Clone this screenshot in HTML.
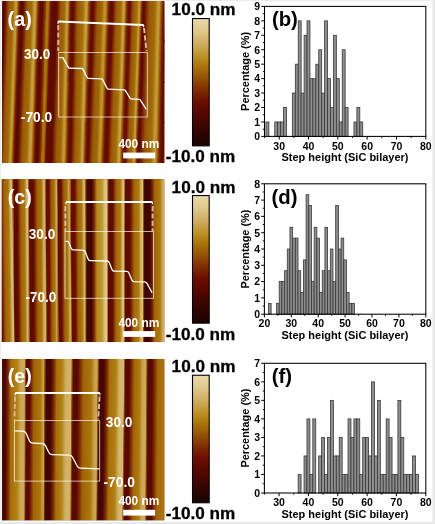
<!DOCTYPE html>
<html><head><meta charset="utf-8"><title>Figure</title>
<style>html,body{margin:0;padding:0;background:#fff;}svg{display:block;}</style></head>
<body>
<svg width="435" height="524" viewBox="0 0 435 524" font-family="Liberation Sans, Arial, sans-serif" font-weight="bold">
<defs>
<clipPath id="clipa"><rect x="2.1" y="1.0" width="162.20000000000002" height="162.0"/></clipPath>
<linearGradient id="ga_0_0" gradientUnits="userSpaceOnUse" x1="-14.69" y1="21.25" x2="3.29" y2="21.86"><stop offset="0.000" stop-color="#5b0a00"/><stop offset="0.065" stop-color="#5e0a00"/><stop offset="0.170" stop-color="#802d00"/><stop offset="0.280" stop-color="#985806"/><stop offset="0.500" stop-color="#a26709"/><stop offset="0.550" stop-color="#ab760c"/><stop offset="0.640" stop-color="#c29938"/><stop offset="0.705" stop-color="#c29938"/><stop offset="0.780" stop-color="#9d6008"/><stop offset="0.870" stop-color="#721700"/><stop offset="0.945" stop-color="#600b00"/><stop offset="1.000" stop-color="#5b0a00"/></linearGradient>
<linearGradient id="ga_0_1" gradientUnits="userSpaceOnUse" x1="3.31" y1="21.25" x2="21.23" y2="21.89"><stop offset="0.000" stop-color="#5b0a00"/><stop offset="0.065" stop-color="#5e0a00"/><stop offset="0.170" stop-color="#802d00"/><stop offset="0.280" stop-color="#985806"/><stop offset="0.500" stop-color="#a26709"/><stop offset="0.550" stop-color="#ab760c"/><stop offset="0.640" stop-color="#c29938"/><stop offset="0.705" stop-color="#c29938"/><stop offset="0.780" stop-color="#9d6008"/><stop offset="0.870" stop-color="#721700"/><stop offset="0.945" stop-color="#600b00"/><stop offset="1.000" stop-color="#5b0a00"/></linearGradient>
<linearGradient id="ga_0_2" gradientUnits="userSpaceOnUse" x1="21.25" y1="21.25" x2="41.42" y2="21.90"><stop offset="0.000" stop-color="#590900"/><stop offset="0.065" stop-color="#5b0a00"/><stop offset="0.170" stop-color="#802d00"/><stop offset="0.280" stop-color="#9a5c07"/><stop offset="0.500" stop-color="#a46b0a"/><stop offset="0.530" stop-color="#ae7a0d"/><stop offset="0.620" stop-color="#c59e43"/><stop offset="0.685" stop-color="#c59e43"/><stop offset="0.760" stop-color="#9f6308"/><stop offset="0.850" stop-color="#711500"/><stop offset="0.925" stop-color="#5e0a00"/><stop offset="1.000" stop-color="#590900"/></linearGradient>
<linearGradient id="ga_0_3" gradientUnits="userSpaceOnUse" x1="41.44" y1="21.25" x2="55.73" y2="21.71"><stop offset="0.000" stop-color="#5e0a00"/><stop offset="0.065" stop-color="#600b00"/><stop offset="0.170" stop-color="#7d2800"/><stop offset="0.280" stop-color="#8f4804"/><stop offset="0.290" stop-color="#a26709"/><stop offset="0.380" stop-color="#ab760c"/><stop offset="0.445" stop-color="#ab760c"/><stop offset="0.500" stop-color="#985806"/><stop offset="0.520" stop-color="#945005"/><stop offset="0.610" stop-color="#711500"/><stop offset="0.685" stop-color="#620c00"/><stop offset="1.000" stop-color="#5e0a00"/></linearGradient>
<linearGradient id="ga_0_4" gradientUnits="userSpaceOnUse" x1="55.75" y1="21.25" x2="72.18" y2="21.68"><stop offset="0.000" stop-color="#600b00"/><stop offset="0.065" stop-color="#620c00"/><stop offset="0.170" stop-color="#823000"/><stop offset="0.280" stop-color="#985806"/><stop offset="0.500" stop-color="#a26709"/><stop offset="0.550" stop-color="#ab760c"/><stop offset="0.640" stop-color="#c29938"/><stop offset="0.705" stop-color="#c29938"/><stop offset="0.780" stop-color="#9d6008"/><stop offset="0.870" stop-color="#751c00"/><stop offset="0.945" stop-color="#650c00"/><stop offset="1.000" stop-color="#600b00"/></linearGradient>
<linearGradient id="ga_0_5" gradientUnits="userSpaceOnUse" x1="72.19" y1="21.25" x2="91.80" y2="21.73"><stop offset="0.000" stop-color="#620c00"/><stop offset="0.065" stop-color="#650c00"/><stop offset="0.170" stop-color="#843401"/><stop offset="0.280" stop-color="#9a5c07"/><stop offset="0.500" stop-color="#a46b0a"/><stop offset="0.580" stop-color="#ae7a0d"/><stop offset="0.670" stop-color="#c59e43"/><stop offset="0.735" stop-color="#c59e43"/><stop offset="0.810" stop-color="#9f6308"/><stop offset="0.900" stop-color="#771f00"/><stop offset="0.975" stop-color="#670d00"/><stop offset="1.000" stop-color="#620c00"/></linearGradient>
<linearGradient id="ga_0_6" gradientUnits="userSpaceOnUse" x1="91.81" y1="21.25" x2="111.26" y2="21.92"><stop offset="0.000" stop-color="#600b00"/><stop offset="0.065" stop-color="#620c00"/><stop offset="0.170" stop-color="#823000"/><stop offset="0.280" stop-color="#985806"/><stop offset="0.500" stop-color="#a26709"/><stop offset="0.530" stop-color="#ab760c"/><stop offset="0.620" stop-color="#be932d"/><stop offset="0.685" stop-color="#be932d"/><stop offset="0.760" stop-color="#9d6008"/><stop offset="0.850" stop-color="#751c00"/><stop offset="0.925" stop-color="#650c00"/><stop offset="1.000" stop-color="#600b00"/></linearGradient>
<linearGradient id="ga_0_7" gradientUnits="userSpaceOnUse" x1="111.29" y1="21.25" x2="128.94" y2="21.84"><stop offset="0.000" stop-color="#650c00"/><stop offset="0.065" stop-color="#670d00"/><stop offset="0.170" stop-color="#853601"/><stop offset="0.280" stop-color="#9a5c07"/><stop offset="0.500" stop-color="#a46b0a"/><stop offset="0.560" stop-color="#ae7a0d"/><stop offset="0.650" stop-color="#c59e43"/><stop offset="0.715" stop-color="#c59e43"/><stop offset="0.790" stop-color="#9f6308"/><stop offset="0.880" stop-color="#792100"/><stop offset="0.955" stop-color="#6a0d00"/><stop offset="1.000" stop-color="#650c00"/></linearGradient>
<linearGradient id="ga_0_8" gradientUnits="userSpaceOnUse" x1="128.96" y1="21.25" x2="142.77" y2="21.71"><stop offset="0.000" stop-color="#670d00"/><stop offset="0.065" stop-color="#6a0d00"/><stop offset="0.170" stop-color="#853601"/><stop offset="0.280" stop-color="#985806"/><stop offset="0.500" stop-color="#a26709"/><stop offset="0.590" stop-color="#ab760c"/><stop offset="0.680" stop-color="#c29938"/><stop offset="0.745" stop-color="#c29938"/><stop offset="0.820" stop-color="#9d6008"/><stop offset="0.910" stop-color="#792300"/><stop offset="0.975" stop-color="#6c0e00"/><stop offset="1.000" stop-color="#670d00"/></linearGradient>
<linearGradient id="ga_0_9" gradientUnits="userSpaceOnUse" x1="142.79" y1="21.25" x2="165.04" y2="21.88"><stop offset="0.000" stop-color="#600b00"/><stop offset="0.065" stop-color="#620c00"/><stop offset="0.170" stop-color="#823000"/><stop offset="0.280" stop-color="#985806"/><stop offset="0.500" stop-color="#a26709"/><stop offset="0.570" stop-color="#ab760c"/><stop offset="0.660" stop-color="#c29938"/><stop offset="0.725" stop-color="#c29938"/><stop offset="0.800" stop-color="#9d6008"/><stop offset="0.890" stop-color="#751c00"/><stop offset="0.965" stop-color="#650c00"/><stop offset="1.000" stop-color="#600b00"/></linearGradient>
<linearGradient id="ga_0_10" gradientUnits="userSpaceOnUse" x1="165.06" y1="21.25" x2="183.49" y2="21.68"><stop offset="0.000" stop-color="#600b00"/><stop offset="0.065" stop-color="#620c00"/><stop offset="0.170" stop-color="#823000"/><stop offset="0.280" stop-color="#985806"/><stop offset="0.500" stop-color="#a26709"/><stop offset="0.550" stop-color="#ab760c"/><stop offset="0.640" stop-color="#c29938"/><stop offset="0.705" stop-color="#c29938"/><stop offset="0.780" stop-color="#9d6008"/><stop offset="0.870" stop-color="#751c00"/><stop offset="0.945" stop-color="#650c00"/><stop offset="1.000" stop-color="#600b00"/></linearGradient>
<linearGradient id="ga_1_0" gradientUnits="userSpaceOnUse" x1="-16.06" y1="61.75" x2="1.92" y2="62.36"><stop offset="0.000" stop-color="#5b0a00"/><stop offset="0.065" stop-color="#5e0a00"/><stop offset="0.170" stop-color="#802d00"/><stop offset="0.280" stop-color="#985806"/><stop offset="0.500" stop-color="#a26709"/><stop offset="0.550" stop-color="#ab760c"/><stop offset="0.640" stop-color="#c29938"/><stop offset="0.705" stop-color="#c29938"/><stop offset="0.780" stop-color="#9d6008"/><stop offset="0.870" stop-color="#721700"/><stop offset="0.945" stop-color="#600b00"/><stop offset="1.000" stop-color="#5b0a00"/></linearGradient>
<linearGradient id="ga_1_1" gradientUnits="userSpaceOnUse" x1="1.94" y1="61.75" x2="19.73" y2="62.38"><stop offset="0.000" stop-color="#5b0a00"/><stop offset="0.065" stop-color="#5e0a00"/><stop offset="0.170" stop-color="#802d00"/><stop offset="0.280" stop-color="#985806"/><stop offset="0.500" stop-color="#a26709"/><stop offset="0.550" stop-color="#ab760c"/><stop offset="0.640" stop-color="#c29938"/><stop offset="0.705" stop-color="#c29938"/><stop offset="0.780" stop-color="#9d6008"/><stop offset="0.870" stop-color="#721700"/><stop offset="0.945" stop-color="#600b00"/><stop offset="1.000" stop-color="#5b0a00"/></linearGradient>
<linearGradient id="ga_1_2" gradientUnits="userSpaceOnUse" x1="19.75" y1="61.75" x2="40.29" y2="62.42"><stop offset="0.000" stop-color="#590900"/><stop offset="0.065" stop-color="#5b0a00"/><stop offset="0.170" stop-color="#802d00"/><stop offset="0.280" stop-color="#9a5c07"/><stop offset="0.500" stop-color="#a46b0a"/><stop offset="0.530" stop-color="#ae7a0d"/><stop offset="0.620" stop-color="#c59e43"/><stop offset="0.685" stop-color="#c59e43"/><stop offset="0.760" stop-color="#9f6308"/><stop offset="0.850" stop-color="#711500"/><stop offset="0.925" stop-color="#5e0a00"/><stop offset="1.000" stop-color="#590900"/></linearGradient>
<linearGradient id="ga_1_3" gradientUnits="userSpaceOnUse" x1="40.31" y1="61.75" x2="54.24" y2="62.20"><stop offset="0.000" stop-color="#5e0a00"/><stop offset="0.065" stop-color="#600b00"/><stop offset="0.170" stop-color="#7d2800"/><stop offset="0.280" stop-color="#8f4804"/><stop offset="0.290" stop-color="#a26709"/><stop offset="0.380" stop-color="#ab760c"/><stop offset="0.445" stop-color="#ab760c"/><stop offset="0.500" stop-color="#985806"/><stop offset="0.520" stop-color="#945005"/><stop offset="0.610" stop-color="#711500"/><stop offset="0.685" stop-color="#620c00"/><stop offset="1.000" stop-color="#5e0a00"/></linearGradient>
<linearGradient id="ga_1_4" gradientUnits="userSpaceOnUse" x1="54.25" y1="61.75" x2="71.55" y2="62.20"><stop offset="0.000" stop-color="#600b00"/><stop offset="0.065" stop-color="#620c00"/><stop offset="0.170" stop-color="#823000"/><stop offset="0.280" stop-color="#985806"/><stop offset="0.500" stop-color="#a26709"/><stop offset="0.550" stop-color="#ab760c"/><stop offset="0.640" stop-color="#c29938"/><stop offset="0.705" stop-color="#c29938"/><stop offset="0.780" stop-color="#9d6008"/><stop offset="0.870" stop-color="#751c00"/><stop offset="0.945" stop-color="#650c00"/><stop offset="1.000" stop-color="#600b00"/></linearGradient>
<linearGradient id="ga_1_5" gradientUnits="userSpaceOnUse" x1="71.56" y1="61.75" x2="90.43" y2="62.22"><stop offset="0.000" stop-color="#620c00"/><stop offset="0.065" stop-color="#650c00"/><stop offset="0.170" stop-color="#843401"/><stop offset="0.280" stop-color="#9a5c07"/><stop offset="0.500" stop-color="#a46b0a"/><stop offset="0.580" stop-color="#ae7a0d"/><stop offset="0.670" stop-color="#c59e43"/><stop offset="0.735" stop-color="#c59e43"/><stop offset="0.810" stop-color="#9f6308"/><stop offset="0.900" stop-color="#771f00"/><stop offset="0.975" stop-color="#670d00"/><stop offset="1.000" stop-color="#620c00"/></linearGradient>
<linearGradient id="ga_1_6" gradientUnits="userSpaceOnUse" x1="90.44" y1="61.75" x2="109.84" y2="62.42"><stop offset="0.000" stop-color="#600b00"/><stop offset="0.065" stop-color="#620c00"/><stop offset="0.170" stop-color="#823000"/><stop offset="0.280" stop-color="#985806"/><stop offset="0.500" stop-color="#a26709"/><stop offset="0.530" stop-color="#ab760c"/><stop offset="0.620" stop-color="#be932d"/><stop offset="0.685" stop-color="#be932d"/><stop offset="0.760" stop-color="#9d6008"/><stop offset="0.850" stop-color="#751c00"/><stop offset="0.925" stop-color="#650c00"/><stop offset="1.000" stop-color="#600b00"/></linearGradient>
<linearGradient id="ga_1_7" gradientUnits="userSpaceOnUse" x1="109.86" y1="61.75" x2="127.67" y2="62.34"><stop offset="0.000" stop-color="#650c00"/><stop offset="0.065" stop-color="#670d00"/><stop offset="0.170" stop-color="#853601"/><stop offset="0.280" stop-color="#9a5c07"/><stop offset="0.500" stop-color="#a46b0a"/><stop offset="0.560" stop-color="#ae7a0d"/><stop offset="0.650" stop-color="#c59e43"/><stop offset="0.715" stop-color="#c59e43"/><stop offset="0.790" stop-color="#9f6308"/><stop offset="0.880" stop-color="#792100"/><stop offset="0.955" stop-color="#6a0d00"/><stop offset="1.000" stop-color="#650c00"/></linearGradient>
<linearGradient id="ga_1_8" gradientUnits="userSpaceOnUse" x1="127.69" y1="61.75" x2="141.35" y2="62.21"><stop offset="0.000" stop-color="#670d00"/><stop offset="0.065" stop-color="#6a0d00"/><stop offset="0.170" stop-color="#853601"/><stop offset="0.280" stop-color="#985806"/><stop offset="0.500" stop-color="#a26709"/><stop offset="0.590" stop-color="#ab760c"/><stop offset="0.680" stop-color="#c29938"/><stop offset="0.745" stop-color="#c29938"/><stop offset="0.820" stop-color="#9d6008"/><stop offset="0.910" stop-color="#792300"/><stop offset="0.975" stop-color="#6c0e00"/><stop offset="1.000" stop-color="#670d00"/></linearGradient>
<linearGradient id="ga_1_9" gradientUnits="userSpaceOnUse" x1="141.36" y1="61.75" x2="164.17" y2="62.40"><stop offset="0.000" stop-color="#600b00"/><stop offset="0.065" stop-color="#620c00"/><stop offset="0.170" stop-color="#823000"/><stop offset="0.280" stop-color="#985806"/><stop offset="0.500" stop-color="#a26709"/><stop offset="0.570" stop-color="#ab760c"/><stop offset="0.660" stop-color="#c29938"/><stop offset="0.725" stop-color="#c29938"/><stop offset="0.800" stop-color="#9d6008"/><stop offset="0.890" stop-color="#751c00"/><stop offset="0.965" stop-color="#650c00"/><stop offset="1.000" stop-color="#600b00"/></linearGradient>
<linearGradient id="ga_1_10" gradientUnits="userSpaceOnUse" x1="164.19" y1="61.75" x2="182.49" y2="62.17"><stop offset="0.000" stop-color="#600b00"/><stop offset="0.065" stop-color="#620c00"/><stop offset="0.170" stop-color="#823000"/><stop offset="0.280" stop-color="#985806"/><stop offset="0.500" stop-color="#a26709"/><stop offset="0.550" stop-color="#ab760c"/><stop offset="0.640" stop-color="#c29938"/><stop offset="0.705" stop-color="#c29938"/><stop offset="0.780" stop-color="#9d6008"/><stop offset="0.870" stop-color="#751c00"/><stop offset="0.945" stop-color="#650c00"/><stop offset="1.000" stop-color="#600b00"/></linearGradient>
<linearGradient id="ga_2_0" gradientUnits="userSpaceOnUse" x1="-17.44" y1="102.25" x2="0.54" y2="102.86"><stop offset="0.000" stop-color="#5b0a00"/><stop offset="0.065" stop-color="#5e0a00"/><stop offset="0.170" stop-color="#802d00"/><stop offset="0.280" stop-color="#985806"/><stop offset="0.500" stop-color="#a26709"/><stop offset="0.550" stop-color="#ab760c"/><stop offset="0.640" stop-color="#c29938"/><stop offset="0.705" stop-color="#c29938"/><stop offset="0.780" stop-color="#9d6008"/><stop offset="0.870" stop-color="#721700"/><stop offset="0.945" stop-color="#600b00"/><stop offset="1.000" stop-color="#5b0a00"/></linearGradient>
<linearGradient id="ga_2_1" gradientUnits="userSpaceOnUse" x1="0.56" y1="102.25" x2="18.23" y2="102.88"><stop offset="0.000" stop-color="#5b0a00"/><stop offset="0.065" stop-color="#5e0a00"/><stop offset="0.170" stop-color="#802d00"/><stop offset="0.280" stop-color="#985806"/><stop offset="0.500" stop-color="#a26709"/><stop offset="0.550" stop-color="#ab760c"/><stop offset="0.640" stop-color="#c29938"/><stop offset="0.705" stop-color="#c29938"/><stop offset="0.780" stop-color="#9d6008"/><stop offset="0.870" stop-color="#721700"/><stop offset="0.945" stop-color="#600b00"/><stop offset="1.000" stop-color="#5b0a00"/></linearGradient>
<linearGradient id="ga_2_2" gradientUnits="userSpaceOnUse" x1="18.25" y1="102.25" x2="39.17" y2="102.93"><stop offset="0.000" stop-color="#590900"/><stop offset="0.065" stop-color="#5b0a00"/><stop offset="0.170" stop-color="#802d00"/><stop offset="0.280" stop-color="#9a5c07"/><stop offset="0.500" stop-color="#a46b0a"/><stop offset="0.530" stop-color="#ae7a0d"/><stop offset="0.620" stop-color="#c59e43"/><stop offset="0.685" stop-color="#c59e43"/><stop offset="0.760" stop-color="#9f6308"/><stop offset="0.850" stop-color="#711500"/><stop offset="0.925" stop-color="#5e0a00"/><stop offset="1.000" stop-color="#590900"/></linearGradient>
<linearGradient id="ga_2_3" gradientUnits="userSpaceOnUse" x1="39.19" y1="102.25" x2="52.74" y2="102.69"><stop offset="0.000" stop-color="#5e0a00"/><stop offset="0.065" stop-color="#600b00"/><stop offset="0.170" stop-color="#7d2800"/><stop offset="0.280" stop-color="#8f4804"/><stop offset="0.290" stop-color="#a26709"/><stop offset="0.380" stop-color="#ab760c"/><stop offset="0.445" stop-color="#ab760c"/><stop offset="0.500" stop-color="#985806"/><stop offset="0.520" stop-color="#945005"/><stop offset="0.610" stop-color="#711500"/><stop offset="0.685" stop-color="#620c00"/><stop offset="1.000" stop-color="#5e0a00"/></linearGradient>
<linearGradient id="ga_2_4" gradientUnits="userSpaceOnUse" x1="52.75" y1="102.25" x2="70.92" y2="102.73"><stop offset="0.000" stop-color="#600b00"/><stop offset="0.065" stop-color="#620c00"/><stop offset="0.170" stop-color="#823000"/><stop offset="0.280" stop-color="#985806"/><stop offset="0.500" stop-color="#a26709"/><stop offset="0.550" stop-color="#ab760c"/><stop offset="0.640" stop-color="#c29938"/><stop offset="0.705" stop-color="#c29938"/><stop offset="0.780" stop-color="#9d6008"/><stop offset="0.870" stop-color="#751c00"/><stop offset="0.945" stop-color="#650c00"/><stop offset="1.000" stop-color="#600b00"/></linearGradient>
<linearGradient id="ga_2_5" gradientUnits="userSpaceOnUse" x1="70.94" y1="102.25" x2="89.05" y2="102.70"><stop offset="0.000" stop-color="#620c00"/><stop offset="0.065" stop-color="#650c00"/><stop offset="0.170" stop-color="#843401"/><stop offset="0.280" stop-color="#9a5c07"/><stop offset="0.500" stop-color="#a46b0a"/><stop offset="0.580" stop-color="#ae7a0d"/><stop offset="0.670" stop-color="#c59e43"/><stop offset="0.735" stop-color="#c59e43"/><stop offset="0.810" stop-color="#9f6308"/><stop offset="0.900" stop-color="#771f00"/><stop offset="0.975" stop-color="#670d00"/><stop offset="1.000" stop-color="#620c00"/></linearGradient>
<linearGradient id="ga_2_6" gradientUnits="userSpaceOnUse" x1="89.06" y1="102.25" x2="108.41" y2="102.92"><stop offset="0.000" stop-color="#600b00"/><stop offset="0.065" stop-color="#620c00"/><stop offset="0.170" stop-color="#823000"/><stop offset="0.280" stop-color="#985806"/><stop offset="0.500" stop-color="#a26709"/><stop offset="0.530" stop-color="#ab760c"/><stop offset="0.620" stop-color="#be932d"/><stop offset="0.685" stop-color="#be932d"/><stop offset="0.760" stop-color="#9d6008"/><stop offset="0.850" stop-color="#751c00"/><stop offset="0.925" stop-color="#650c00"/><stop offset="1.000" stop-color="#600b00"/></linearGradient>
<linearGradient id="ga_2_7" gradientUnits="userSpaceOnUse" x1="108.44" y1="102.25" x2="126.39" y2="102.85"><stop offset="0.000" stop-color="#650c00"/><stop offset="0.065" stop-color="#670d00"/><stop offset="0.170" stop-color="#853601"/><stop offset="0.280" stop-color="#9a5c07"/><stop offset="0.500" stop-color="#a46b0a"/><stop offset="0.560" stop-color="#ae7a0d"/><stop offset="0.650" stop-color="#c59e43"/><stop offset="0.715" stop-color="#c59e43"/><stop offset="0.790" stop-color="#9f6308"/><stop offset="0.880" stop-color="#792100"/><stop offset="0.955" stop-color="#6a0d00"/><stop offset="1.000" stop-color="#650c00"/></linearGradient>
<linearGradient id="ga_2_8" gradientUnits="userSpaceOnUse" x1="126.41" y1="102.25" x2="139.92" y2="102.70"><stop offset="0.000" stop-color="#670d00"/><stop offset="0.065" stop-color="#6a0d00"/><stop offset="0.170" stop-color="#853601"/><stop offset="0.280" stop-color="#985806"/><stop offset="0.500" stop-color="#a26709"/><stop offset="0.590" stop-color="#ab760c"/><stop offset="0.680" stop-color="#c29938"/><stop offset="0.745" stop-color="#c29938"/><stop offset="0.820" stop-color="#9d6008"/><stop offset="0.910" stop-color="#792300"/><stop offset="0.975" stop-color="#6c0e00"/><stop offset="1.000" stop-color="#670d00"/></linearGradient>
<linearGradient id="ga_2_9" gradientUnits="userSpaceOnUse" x1="139.94" y1="102.25" x2="163.29" y2="102.91"><stop offset="0.000" stop-color="#600b00"/><stop offset="0.065" stop-color="#620c00"/><stop offset="0.170" stop-color="#823000"/><stop offset="0.280" stop-color="#985806"/><stop offset="0.500" stop-color="#a26709"/><stop offset="0.570" stop-color="#ab760c"/><stop offset="0.660" stop-color="#c29938"/><stop offset="0.725" stop-color="#c29938"/><stop offset="0.800" stop-color="#9d6008"/><stop offset="0.890" stop-color="#751c00"/><stop offset="0.965" stop-color="#650c00"/><stop offset="1.000" stop-color="#600b00"/></linearGradient>
<linearGradient id="ga_2_10" gradientUnits="userSpaceOnUse" x1="163.31" y1="102.25" x2="181.49" y2="102.67"><stop offset="0.000" stop-color="#600b00"/><stop offset="0.065" stop-color="#620c00"/><stop offset="0.170" stop-color="#823000"/><stop offset="0.280" stop-color="#985806"/><stop offset="0.500" stop-color="#a26709"/><stop offset="0.550" stop-color="#ab760c"/><stop offset="0.640" stop-color="#c29938"/><stop offset="0.705" stop-color="#c29938"/><stop offset="0.780" stop-color="#9d6008"/><stop offset="0.870" stop-color="#751c00"/><stop offset="0.945" stop-color="#650c00"/><stop offset="1.000" stop-color="#600b00"/></linearGradient>
<linearGradient id="ga_3_0" gradientUnits="userSpaceOnUse" x1="-18.81" y1="142.75" x2="-0.83" y2="143.36"><stop offset="0.000" stop-color="#5b0a00"/><stop offset="0.065" stop-color="#5e0a00"/><stop offset="0.170" stop-color="#802d00"/><stop offset="0.280" stop-color="#985806"/><stop offset="0.500" stop-color="#a26709"/><stop offset="0.550" stop-color="#ab760c"/><stop offset="0.640" stop-color="#c29938"/><stop offset="0.705" stop-color="#c29938"/><stop offset="0.780" stop-color="#9d6008"/><stop offset="0.870" stop-color="#721700"/><stop offset="0.945" stop-color="#600b00"/><stop offset="1.000" stop-color="#5b0a00"/></linearGradient>
<linearGradient id="ga_3_1" gradientUnits="userSpaceOnUse" x1="-0.81" y1="142.75" x2="16.73" y2="143.37"><stop offset="0.000" stop-color="#5b0a00"/><stop offset="0.065" stop-color="#5e0a00"/><stop offset="0.170" stop-color="#802d00"/><stop offset="0.280" stop-color="#985806"/><stop offset="0.500" stop-color="#a26709"/><stop offset="0.550" stop-color="#ab760c"/><stop offset="0.640" stop-color="#c29938"/><stop offset="0.705" stop-color="#c29938"/><stop offset="0.780" stop-color="#9d6008"/><stop offset="0.870" stop-color="#721700"/><stop offset="0.945" stop-color="#600b00"/><stop offset="1.000" stop-color="#5b0a00"/></linearGradient>
<linearGradient id="ga_3_2" gradientUnits="userSpaceOnUse" x1="16.75" y1="142.75" x2="38.04" y2="143.44"><stop offset="0.000" stop-color="#590900"/><stop offset="0.065" stop-color="#5b0a00"/><stop offset="0.170" stop-color="#802d00"/><stop offset="0.280" stop-color="#9a5c07"/><stop offset="0.500" stop-color="#a46b0a"/><stop offset="0.530" stop-color="#ae7a0d"/><stop offset="0.620" stop-color="#c59e43"/><stop offset="0.685" stop-color="#c59e43"/><stop offset="0.760" stop-color="#9f6308"/><stop offset="0.850" stop-color="#711500"/><stop offset="0.925" stop-color="#5e0a00"/><stop offset="1.000" stop-color="#590900"/></linearGradient>
<linearGradient id="ga_3_3" gradientUnits="userSpaceOnUse" x1="38.06" y1="142.75" x2="51.24" y2="143.18"><stop offset="0.000" stop-color="#5e0a00"/><stop offset="0.065" stop-color="#600b00"/><stop offset="0.170" stop-color="#7d2800"/><stop offset="0.280" stop-color="#8f4804"/><stop offset="0.290" stop-color="#a26709"/><stop offset="0.380" stop-color="#ab760c"/><stop offset="0.445" stop-color="#ab760c"/><stop offset="0.500" stop-color="#985806"/><stop offset="0.520" stop-color="#945005"/><stop offset="0.610" stop-color="#711500"/><stop offset="0.685" stop-color="#620c00"/><stop offset="1.000" stop-color="#5e0a00"/></linearGradient>
<linearGradient id="ga_3_4" gradientUnits="userSpaceOnUse" x1="51.25" y1="142.75" x2="70.30" y2="143.25"><stop offset="0.000" stop-color="#600b00"/><stop offset="0.065" stop-color="#620c00"/><stop offset="0.170" stop-color="#823000"/><stop offset="0.280" stop-color="#985806"/><stop offset="0.500" stop-color="#a26709"/><stop offset="0.550" stop-color="#ab760c"/><stop offset="0.640" stop-color="#c29938"/><stop offset="0.705" stop-color="#c29938"/><stop offset="0.780" stop-color="#9d6008"/><stop offset="0.870" stop-color="#751c00"/><stop offset="0.945" stop-color="#650c00"/><stop offset="1.000" stop-color="#600b00"/></linearGradient>
<linearGradient id="ga_3_5" gradientUnits="userSpaceOnUse" x1="70.31" y1="142.75" x2="87.68" y2="143.18"><stop offset="0.000" stop-color="#620c00"/><stop offset="0.065" stop-color="#650c00"/><stop offset="0.170" stop-color="#843401"/><stop offset="0.280" stop-color="#9a5c07"/><stop offset="0.500" stop-color="#a46b0a"/><stop offset="0.580" stop-color="#ae7a0d"/><stop offset="0.670" stop-color="#c59e43"/><stop offset="0.735" stop-color="#c59e43"/><stop offset="0.810" stop-color="#9f6308"/><stop offset="0.900" stop-color="#771f00"/><stop offset="0.975" stop-color="#670d00"/><stop offset="1.000" stop-color="#620c00"/></linearGradient>
<linearGradient id="ga_3_6" gradientUnits="userSpaceOnUse" x1="87.69" y1="142.75" x2="106.99" y2="143.42"><stop offset="0.000" stop-color="#600b00"/><stop offset="0.065" stop-color="#620c00"/><stop offset="0.170" stop-color="#823000"/><stop offset="0.280" stop-color="#985806"/><stop offset="0.500" stop-color="#a26709"/><stop offset="0.530" stop-color="#ab760c"/><stop offset="0.620" stop-color="#be932d"/><stop offset="0.685" stop-color="#be932d"/><stop offset="0.760" stop-color="#9d6008"/><stop offset="0.850" stop-color="#751c00"/><stop offset="0.925" stop-color="#650c00"/><stop offset="1.000" stop-color="#600b00"/></linearGradient>
<linearGradient id="ga_3_7" gradientUnits="userSpaceOnUse" x1="107.01" y1="142.75" x2="125.12" y2="143.35"><stop offset="0.000" stop-color="#650c00"/><stop offset="0.065" stop-color="#670d00"/><stop offset="0.170" stop-color="#853601"/><stop offset="0.280" stop-color="#9a5c07"/><stop offset="0.500" stop-color="#a46b0a"/><stop offset="0.560" stop-color="#ae7a0d"/><stop offset="0.650" stop-color="#c59e43"/><stop offset="0.715" stop-color="#c59e43"/><stop offset="0.790" stop-color="#9f6308"/><stop offset="0.880" stop-color="#792100"/><stop offset="0.955" stop-color="#6a0d00"/><stop offset="1.000" stop-color="#650c00"/></linearGradient>
<linearGradient id="ga_3_8" gradientUnits="userSpaceOnUse" x1="125.14" y1="142.75" x2="138.50" y2="143.20"><stop offset="0.000" stop-color="#670d00"/><stop offset="0.065" stop-color="#6a0d00"/><stop offset="0.170" stop-color="#853601"/><stop offset="0.280" stop-color="#985806"/><stop offset="0.500" stop-color="#a26709"/><stop offset="0.590" stop-color="#ab760c"/><stop offset="0.680" stop-color="#c29938"/><stop offset="0.745" stop-color="#c29938"/><stop offset="0.820" stop-color="#9d6008"/><stop offset="0.910" stop-color="#792300"/><stop offset="0.975" stop-color="#6c0e00"/><stop offset="1.000" stop-color="#670d00"/></linearGradient>
<linearGradient id="ga_3_9" gradientUnits="userSpaceOnUse" x1="138.51" y1="142.75" x2="162.42" y2="143.43"><stop offset="0.000" stop-color="#600b00"/><stop offset="0.065" stop-color="#620c00"/><stop offset="0.170" stop-color="#823000"/><stop offset="0.280" stop-color="#985806"/><stop offset="0.500" stop-color="#a26709"/><stop offset="0.570" stop-color="#ab760c"/><stop offset="0.660" stop-color="#c29938"/><stop offset="0.725" stop-color="#c29938"/><stop offset="0.800" stop-color="#9d6008"/><stop offset="0.890" stop-color="#751c00"/><stop offset="0.965" stop-color="#650c00"/><stop offset="1.000" stop-color="#600b00"/></linearGradient>
<linearGradient id="ga_3_10" gradientUnits="userSpaceOnUse" x1="162.44" y1="142.75" x2="180.49" y2="143.17"><stop offset="0.000" stop-color="#600b00"/><stop offset="0.065" stop-color="#620c00"/><stop offset="0.170" stop-color="#823000"/><stop offset="0.280" stop-color="#985806"/><stop offset="0.500" stop-color="#a26709"/><stop offset="0.550" stop-color="#ab760c"/><stop offset="0.640" stop-color="#c29938"/><stop offset="0.705" stop-color="#c29938"/><stop offset="0.780" stop-color="#9d6008"/><stop offset="0.870" stop-color="#751c00"/><stop offset="0.945" stop-color="#650c00"/><stop offset="1.000" stop-color="#600b00"/></linearGradient>
<clipPath id="clipc"><rect x="1.8" y="179.3" width="162.5" height="162.59999999999997"/></clipPath>
<linearGradient id="gc_0_0" gradientUnits="userSpaceOnUse" x1="-3.00" y1="260.60" x2="13.70" y2="260.37"><stop offset="0.000" stop-color="#a06509"/><stop offset="0.035" stop-color="#650c00"/><stop offset="0.270" stop-color="#6a0d00"/><stop offset="0.380" stop-color="#883a01"/><stop offset="0.490" stop-color="#9f6308"/><stop offset="0.730" stop-color="#ab760c"/><stop offset="0.860" stop-color="#d3b46d"/><stop offset="0.920" stop-color="#d6ba76"/><stop offset="0.970" stop-color="#d6ba76"/><stop offset="1.000" stop-color="#a06509"/></linearGradient>
<linearGradient id="gc_0_1" gradientUnits="userSpaceOnUse" x1="13.70" y1="260.60" x2="29.10" y2="260.48"><stop offset="0.000" stop-color="#9c5e07"/><stop offset="0.035" stop-color="#5b0a00"/><stop offset="0.270" stop-color="#600b00"/><stop offset="0.380" stop-color="#833200"/><stop offset="0.490" stop-color="#9f6308"/><stop offset="0.730" stop-color="#ab760c"/><stop offset="0.860" stop-color="#d3b46d"/><stop offset="0.920" stop-color="#d6ba76"/><stop offset="0.970" stop-color="#d6ba76"/><stop offset="1.000" stop-color="#9c5e07"/></linearGradient>
<linearGradient id="gc_0_2" gradientUnits="userSpaceOnUse" x1="29.10" y1="260.60" x2="46.20" y2="260.52"><stop offset="0.000" stop-color="#995a06"/><stop offset="0.035" stop-color="#5b0a00"/><stop offset="0.270" stop-color="#600b00"/><stop offset="0.380" stop-color="#823000"/><stop offset="0.490" stop-color="#9d6008"/><stop offset="0.730" stop-color="#a9730c"/><stop offset="0.860" stop-color="#d0af64"/><stop offset="0.920" stop-color="#d3b46d"/><stop offset="0.970" stop-color="#d3b46d"/><stop offset="1.000" stop-color="#995a06"/></linearGradient>
<linearGradient id="gc_0_3" gradientUnits="userSpaceOnUse" x1="46.20" y1="260.60" x2="57.90" y2="260.54"><stop offset="0.000" stop-color="#9a5c07"/><stop offset="0.035" stop-color="#650c00"/><stop offset="0.270" stop-color="#6a0d00"/><stop offset="0.380" stop-color="#863801"/><stop offset="0.490" stop-color="#9d6008"/><stop offset="0.730" stop-color="#a9730c"/><stop offset="0.860" stop-color="#caa654"/><stop offset="0.920" stop-color="#ceac60"/><stop offset="0.970" stop-color="#ceac60"/><stop offset="1.000" stop-color="#9a5c07"/></linearGradient>
<linearGradient id="gc_0_4" gradientUnits="userSpaceOnUse" x1="57.90" y1="260.60" x2="71.10" y2="260.50"><stop offset="0.000" stop-color="#985806"/><stop offset="0.035" stop-color="#600b00"/><stop offset="0.270" stop-color="#650c00"/><stop offset="0.380" stop-color="#843401"/><stop offset="0.490" stop-color="#9d6008"/><stop offset="0.730" stop-color="#a9730c"/><stop offset="0.860" stop-color="#caa654"/><stop offset="0.920" stop-color="#ceac60"/><stop offset="0.970" stop-color="#ceac60"/><stop offset="1.000" stop-color="#985806"/></linearGradient>
<linearGradient id="gc_0_5" gradientUnits="userSpaceOnUse" x1="71.10" y1="260.60" x2="86.00" y2="260.50"><stop offset="0.000" stop-color="#9e6108"/><stop offset="0.035" stop-color="#650c00"/><stop offset="0.270" stop-color="#6a0d00"/><stop offset="0.380" stop-color="#883a01"/><stop offset="0.490" stop-color="#9f6308"/><stop offset="0.730" stop-color="#ab760c"/><stop offset="0.860" stop-color="#d0af64"/><stop offset="0.920" stop-color="#d3b46d"/><stop offset="0.970" stop-color="#d3b46d"/><stop offset="1.000" stop-color="#9e6108"/></linearGradient>
<linearGradient id="gc_0_6" gradientUnits="userSpaceOnUse" x1="86.00" y1="260.60" x2="108.00" y2="260.60"><stop offset="0.000" stop-color="#945005"/><stop offset="0.035" stop-color="#3d0600"/><stop offset="0.270" stop-color="#420600"/><stop offset="0.380" stop-color="#802d00"/><stop offset="0.490" stop-color="#b58518"/><stop offset="0.730" stop-color="#c09632"/><stop offset="0.860" stop-color="#dbc283"/><stop offset="0.920" stop-color="#dec88c"/><stop offset="0.970" stop-color="#dec88c"/><stop offset="1.000" stop-color="#945005"/></linearGradient>
<linearGradient id="gc_0_7" gradientUnits="userSpaceOnUse" x1="108.00" y1="260.60" x2="124.75" y2="260.63"><stop offset="0.000" stop-color="#9d6008"/><stop offset="0.035" stop-color="#5b0a00"/><stop offset="0.270" stop-color="#600b00"/><stop offset="0.380" stop-color="#843401"/><stop offset="0.490" stop-color="#a26709"/><stop offset="0.730" stop-color="#ae7a0d"/><stop offset="0.860" stop-color="#d4b772"/><stop offset="0.920" stop-color="#d8bd7a"/><stop offset="0.970" stop-color="#d8bd7a"/><stop offset="1.000" stop-color="#9d6008"/></linearGradient>
<linearGradient id="gc_0_8" gradientUnits="userSpaceOnUse" x1="124.75" y1="260.60" x2="143.80" y2="260.63"><stop offset="0.000" stop-color="#9d6008"/><stop offset="0.035" stop-color="#5b0a00"/><stop offset="0.270" stop-color="#600b00"/><stop offset="0.380" stop-color="#843401"/><stop offset="0.490" stop-color="#a26709"/><stop offset="0.730" stop-color="#ae7a0d"/><stop offset="0.860" stop-color="#d4b772"/><stop offset="0.920" stop-color="#d8bd7a"/><stop offset="0.970" stop-color="#d8bd7a"/><stop offset="1.000" stop-color="#9d6008"/></linearGradient>
<linearGradient id="gc_0_9" gradientUnits="userSpaceOnUse" x1="143.80" y1="260.60" x2="166.00" y2="260.60"><stop offset="0.000" stop-color="#8b4002"/><stop offset="0.035" stop-color="#3d0600"/><stop offset="0.270" stop-color="#420600"/><stop offset="0.380" stop-color="#771f00"/><stop offset="0.490" stop-color="#a26709"/><stop offset="0.730" stop-color="#ae7a0d"/><stop offset="0.860" stop-color="#ceac60"/><stop offset="0.920" stop-color="#d1b269"/><stop offset="0.970" stop-color="#d1b269"/><stop offset="1.000" stop-color="#8b4002"/></linearGradient>
<clipPath id="clipe"><rect x="2.0" y="359.05" width="162.3" height="161.24999999999994"/></clipPath>
<linearGradient id="ge_0_0" gradientUnits="userSpaceOnUse" x1="0.00" y1="439.67" x2="25.30" y2="439.72"><stop offset="0.000" stop-color="#8c4203"/><stop offset="0.035" stop-color="#470700"/><stop offset="0.210" stop-color="#4c0700"/><stop offset="0.320" stop-color="#7e2900"/><stop offset="0.430" stop-color="#a66f0b"/><stop offset="0.670" stop-color="#b28113"/><stop offset="0.800" stop-color="#c9a44f"/><stop offset="0.860" stop-color="#cca95a"/><stop offset="0.970" stop-color="#cca95a"/><stop offset="1.000" stop-color="#8c4203"/></linearGradient>
<linearGradient id="ge_0_1" gradientUnits="userSpaceOnUse" x1="25.30" y1="439.67" x2="44.70" y2="439.75"><stop offset="0.000" stop-color="#904a04"/><stop offset="0.035" stop-color="#560900"/><stop offset="0.210" stop-color="#5b0a00"/><stop offset="0.320" stop-color="#812e00"/><stop offset="0.430" stop-color="#9f6308"/><stop offset="0.770" stop-color="#ab760c"/><stop offset="0.900" stop-color="#c59e43"/><stop offset="0.960" stop-color="#c9a44f"/><stop offset="0.970" stop-color="#c9a44f"/><stop offset="1.000" stop-color="#904a04"/></linearGradient>
<linearGradient id="ge_0_2" gradientUnits="userSpaceOnUse" x1="44.70" y1="439.67" x2="71.70" y2="439.84"><stop offset="0.000" stop-color="#8c4203"/><stop offset="0.035" stop-color="#400600"/><stop offset="0.210" stop-color="#450600"/><stop offset="0.320" stop-color="#7a2400"/><stop offset="0.430" stop-color="#a66f0b"/><stop offset="0.630" stop-color="#b28113"/><stop offset="0.760" stop-color="#ceac60"/><stop offset="0.820" stop-color="#d1b269"/><stop offset="0.970" stop-color="#d1b269"/><stop offset="1.000" stop-color="#8c4203"/></linearGradient>
<linearGradient id="ge_0_3" gradientUnits="userSpaceOnUse" x1="71.70" y1="439.67" x2="97.70" y2="439.90"><stop offset="0.000" stop-color="#914c04"/><stop offset="0.035" stop-color="#560900"/><stop offset="0.210" stop-color="#5b0a00"/><stop offset="0.320" stop-color="#812e00"/><stop offset="0.430" stop-color="#9f6308"/><stop offset="0.730" stop-color="#ab760c"/><stop offset="0.860" stop-color="#c7a149"/><stop offset="0.920" stop-color="#caa654"/><stop offset="0.970" stop-color="#caa654"/><stop offset="1.000" stop-color="#914c04"/></linearGradient>
<linearGradient id="ge_0_4" gradientUnits="userSpaceOnUse" x1="97.70" y1="439.67" x2="124.00" y2="439.95"><stop offset="0.000" stop-color="#8f4804"/><stop offset="0.035" stop-color="#420600"/><stop offset="0.210" stop-color="#470700"/><stop offset="0.320" stop-color="#7b2600"/><stop offset="0.430" stop-color="#a66f0b"/><stop offset="0.670" stop-color="#b28113"/><stop offset="0.800" stop-color="#d1b269"/><stop offset="0.860" stop-color="#d4b772"/><stop offset="0.970" stop-color="#d4b772"/><stop offset="1.000" stop-color="#8f4804"/></linearGradient>
<linearGradient id="ge_0_5" gradientUnits="userSpaceOnUse" x1="124.00" y1="439.67" x2="146.50" y2="439.88"><stop offset="0.000" stop-color="#924e04"/><stop offset="0.035" stop-color="#560900"/><stop offset="0.210" stop-color="#5b0a00"/><stop offset="0.320" stop-color="#823000"/><stop offset="0.430" stop-color="#a26709"/><stop offset="0.670" stop-color="#ae7a0d"/><stop offset="0.800" stop-color="#c9a44f"/><stop offset="0.860" stop-color="#cca95a"/><stop offset="0.970" stop-color="#cca95a"/><stop offset="1.000" stop-color="#924e04"/></linearGradient>
<linearGradient id="ge_0_6" gradientUnits="userSpaceOnUse" x1="146.50" y1="439.67" x2="171.50" y2="439.83"><stop offset="0.000" stop-color="#924e04"/><stop offset="0.035" stop-color="#560900"/><stop offset="0.210" stop-color="#5b0a00"/><stop offset="0.320" stop-color="#823000"/><stop offset="0.430" stop-color="#a26709"/><stop offset="0.770" stop-color="#ae7a0d"/><stop offset="0.900" stop-color="#c9a44f"/><stop offset="0.960" stop-color="#cca95a"/><stop offset="0.970" stop-color="#cca95a"/><stop offset="1.000" stop-color="#924e04"/></linearGradient>
<linearGradient id="cb" x1="0" y1="0" x2="0" y2="1"><stop offset="0.000" stop-color="#ead8aa"/><stop offset="0.100" stop-color="#dec88c"/><stop offset="0.200" stop-color="#ceac60"/><stop offset="0.280" stop-color="#c09632"/><stop offset="0.350" stop-color="#b07e0e"/><stop offset="0.450" stop-color="#985806"/><stop offset="0.550" stop-color="#823000"/><stop offset="0.650" stop-color="#6c0e00"/><stop offset="0.750" stop-color="#540800"/><stop offset="0.900" stop-color="#2e0400"/><stop offset="1.000" stop-color="#180404"/></linearGradient>
</defs>
<rect width="100%" height="100%" fill="#fff"/>
<g clip-path="url(#clipa)">
<rect x="0" y="0.0" width="170" height="164.0" fill="#7a3000"/>
<polygon points="-14.60,0.00 4.60,0.00 3.23,42.50 -15.97,42.50" fill="url(#ga_0_0)"/>
<polygon points="3.40,0.00 22.60,0.00 21.10,42.50 2.02,42.50" fill="url(#ga_0_1)"/>
<polygon points="21.40,0.00 42.60,0.00 41.48,42.50 19.90,42.50" fill="url(#ga_0_2)"/>
<polygon points="41.40,0.00 57.10,0.00 55.60,42.50 40.27,42.50" fill="url(#ga_0_3)"/>
<polygon points="55.90,0.00 73.10,0.00 72.47,42.50 54.40,42.50" fill="url(#ga_0_4)"/>
<polygon points="71.90,0.00 93.10,0.00 91.72,42.50 71.28,42.50" fill="url(#ga_0_5)"/>
<polygon points="91.90,0.00 112.60,0.00 111.17,42.50 90.53,42.50" fill="url(#ga_0_6)"/>
<polygon points="111.40,0.00 130.20,0.00 128.92,42.50 109.98,42.50" fill="url(#ga_0_7)"/>
<polygon points="129.00,0.00 144.10,0.00 142.67,42.50 127.72,42.50" fill="url(#ga_0_8)"/>
<polygon points="142.90,0.00 166.10,0.00 165.22,42.50 141.47,42.50" fill="url(#ga_0_9)"/>
<polygon points="164.90,0.00 184.60,0.00 183.60,42.50 164.03,42.50" fill="url(#ga_0_10)"/>
<polygon points="-15.97,40.50 3.23,40.50 1.85,83.00 -17.35,83.00" fill="url(#ga_1_0)"/>
<polygon points="2.02,40.50 21.10,40.50 19.60,83.00 0.65,83.00" fill="url(#ga_1_1)"/>
<polygon points="19.90,40.50 41.48,40.50 40.35,83.00 18.40,83.00" fill="url(#ga_1_2)"/>
<polygon points="40.27,40.50 55.60,40.50 54.10,83.00 39.15,83.00" fill="url(#ga_1_3)"/>
<polygon points="54.40,40.50 72.47,40.50 71.85,83.00 52.90,83.00" fill="url(#ga_1_4)"/>
<polygon points="71.28,40.50 91.72,40.50 90.35,83.00 70.65,83.00" fill="url(#ga_1_5)"/>
<polygon points="90.53,40.50 111.17,40.50 109.75,83.00 89.15,83.00" fill="url(#ga_1_6)"/>
<polygon points="109.98,40.50 128.92,40.50 127.65,83.00 108.55,83.00" fill="url(#ga_1_7)"/>
<polygon points="127.72,40.50 142.67,40.50 141.25,83.00 126.45,83.00" fill="url(#ga_1_8)"/>
<polygon points="141.47,40.50 165.22,40.50 164.35,83.00 140.05,83.00" fill="url(#ga_1_9)"/>
<polygon points="164.03,40.50 183.60,40.50 182.60,83.00 163.15,83.00" fill="url(#ga_1_10)"/>
<polygon points="-17.35,81.00 1.85,81.00 0.47,123.50 -18.73,123.50" fill="url(#ga_2_0)"/>
<polygon points="0.65,81.00 19.60,81.00 18.10,123.50 -0.72,123.50" fill="url(#ga_2_1)"/>
<polygon points="18.40,81.00 40.35,81.00 39.23,123.50 16.90,123.50" fill="url(#ga_2_2)"/>
<polygon points="39.15,81.00 54.10,81.00 52.60,123.50 38.02,123.50" fill="url(#ga_2_3)"/>
<polygon points="52.90,81.00 71.85,81.00 71.22,123.50 51.40,123.50" fill="url(#ga_2_4)"/>
<polygon points="70.65,81.00 90.35,81.00 88.97,123.50 70.03,123.50" fill="url(#ga_2_5)"/>
<polygon points="89.15,81.00 109.75,81.00 108.32,123.50 87.78,123.50" fill="url(#ga_2_6)"/>
<polygon points="108.55,81.00 127.65,81.00 126.38,123.50 107.12,123.50" fill="url(#ga_2_7)"/>
<polygon points="126.45,81.00 141.25,81.00 139.83,123.50 125.18,123.50" fill="url(#ga_2_8)"/>
<polygon points="140.05,81.00 164.35,81.00 163.47,123.50 138.63,123.50" fill="url(#ga_2_9)"/>
<polygon points="163.15,81.00 182.60,81.00 181.60,123.50 162.28,123.50" fill="url(#ga_2_10)"/>
<polygon points="-18.73,121.50 0.47,121.50 -0.90,164.00 -20.10,164.00" fill="url(#ga_3_0)"/>
<polygon points="-0.72,121.50 18.10,121.50 16.60,164.00 -2.10,164.00" fill="url(#ga_3_1)"/>
<polygon points="16.90,121.50 39.23,121.50 38.10,164.00 15.40,164.00" fill="url(#ga_3_2)"/>
<polygon points="38.02,121.50 52.60,121.50 51.10,164.00 36.90,164.00" fill="url(#ga_3_3)"/>
<polygon points="51.40,121.50 71.22,121.50 70.60,164.00 49.90,164.00" fill="url(#ga_3_4)"/>
<polygon points="70.03,121.50 88.97,121.50 87.60,164.00 69.40,164.00" fill="url(#ga_3_5)"/>
<polygon points="87.78,121.50 108.32,121.50 106.90,164.00 86.40,164.00" fill="url(#ga_3_6)"/>
<polygon points="107.12,121.50 126.38,121.50 125.10,164.00 105.70,164.00" fill="url(#ga_3_7)"/>
<polygon points="125.18,121.50 139.83,121.50 138.40,164.00 123.90,164.00" fill="url(#ga_3_8)"/>
<polygon points="138.63,121.50 163.47,121.50 162.60,164.00 137.20,164.00" fill="url(#ga_3_9)"/>
<polygon points="162.28,121.50 181.60,121.50 180.60,164.00 161.40,164.00" fill="url(#ga_3_10)"/>
</g>
<g clip-path="url(#clipc)">
<rect x="0" y="178.3" width="170" height="164.59999999999997" fill="#7a3000"/>
<polygon points="-4.60,178.30 13.10,178.30 15.50,342.90 -2.60,342.90" fill="url(#gc_0_0)"/>
<polygon points="11.90,178.30 29.60,178.30 29.80,342.90 14.30,342.90" fill="url(#gc_0_1)"/>
<polygon points="28.40,178.30 46.10,178.30 47.50,342.90 28.60,342.90" fill="url(#gc_0_2)"/>
<polygon points="44.90,178.30 58.40,178.30 58.60,342.90 46.30,342.90" fill="url(#gc_0_3)"/>
<polygon points="57.20,178.30 70.60,178.30 72.80,342.90 57.40,342.90" fill="url(#gc_0_4)"/>
<polygon points="69.40,178.30 86.60,178.30 86.60,342.90 71.60,342.90" fill="url(#gc_0_5)"/>
<polygon points="85.40,178.30 108.60,178.30 108.60,342.90 85.40,342.90" fill="url(#gc_0_6)"/>
<polygon points="107.40,178.30 125.60,178.30 125.10,342.90 107.40,342.90" fill="url(#gc_0_7)"/>
<polygon points="124.40,178.30 144.40,178.30 144.40,342.90 123.90,342.90" fill="url(#gc_0_8)"/>
<polygon points="143.20,178.30 166.60,178.30 166.60,342.90 143.20,342.90" fill="url(#gc_0_9)"/>
</g>
<g clip-path="url(#clipe)">
<rect x="0" y="358.05" width="170" height="163.24999999999994" fill="#7a3000"/>
<polygon points="-0.60,358.05 26.20,358.05 25.60,521.30 -0.60,521.30" fill="url(#ge_0_0)"/>
<polygon points="25.00,358.05 45.60,358.05 45.00,521.30 24.40,521.30" fill="url(#ge_0_1)"/>
<polygon points="44.40,358.05 73.00,358.05 71.60,521.30 43.80,521.30" fill="url(#ge_0_2)"/>
<polygon points="71.80,358.05 99.00,358.05 97.60,521.30 70.40,521.30" fill="url(#ge_0_3)"/>
<polygon points="97.80,358.05 125.60,358.05 123.60,521.30 96.40,521.30" fill="url(#ge_0_4)"/>
<polygon points="124.40,358.05 147.60,358.05 146.60,521.30 122.40,521.30" fill="url(#ge_0_5)"/>
<polygon points="146.40,358.05 172.60,358.05 171.60,521.30 145.40,521.30" fill="url(#ge_0_6)"/>
</g>
<text x="7.6" y="25.9" font-size="20" fill="#fff" text-anchor="start" textLength="24.2" lengthAdjust="spacingAndGlyphs" >(a)</text>
<text x="7.8" y="204.0" font-size="20" fill="#fff" text-anchor="start" textLength="24.0" lengthAdjust="spacingAndGlyphs" >(c)</text>
<text x="7.8" y="382.6" font-size="20" fill="#fff" text-anchor="start" textLength="24.0" lengthAdjust="spacingAndGlyphs" >(e)</text>
<line x1="58" y1="21.6" x2="143.6" y2="25" stroke="#fff" stroke-width="2.0"/>
<line x1="58" y1="21.6" x2="58" y2="23.8" stroke="#fff" stroke-width="1.2"/>
<line x1="143.6" y1="25" x2="143.6" y2="27.2" stroke="#fff" stroke-width="1.2"/>
<line x1="58.3" y1="25" x2="58.3" y2="51" stroke="#d8b6ac" stroke-width="1.9" stroke-dasharray="5.2 2.2"/>
<line x1="144" y1="28" x2="146.5" y2="51" stroke="#d8b6ac" stroke-width="1.9" stroke-dasharray="5.2 2.2"/>
<rect x="58.7" y="52.5" width="88.60000000000001" height="64.5" fill="none" stroke="#fff" stroke-opacity="0.8" stroke-width="0.85"/>
<path d="M59.2,57.7 L62.2,57.7 Q62.8,57.7 63.1,58.2 L68.5,67.6 Q68.8,68.1 69.4,68.1 L82.0,68.5 Q82.6,68.5 82.9,69.0 L87.3,77.9 Q87.6,78.4 88.2,78.4 L101.5,78.8 Q102.1,78.8 102.4,79.3 L107.3,88.6 Q107.6,89.1 108.2,89.1 L124.4,89.9 Q125.0,89.9 125.3,90.4 L130.2,98.3 Q130.5,98.8 131.1,98.8 L139.3,99.4 Q139.9,99.4 140.2,99.9 L146.3,109.4" fill="none" stroke="#fff" stroke-width="1.3" stroke-linejoin="round"/>
<text x="24.0" y="58.9" font-size="14.2" fill="#fff" text-anchor="start" textLength="26.2" lengthAdjust="spacingAndGlyphs" >30.0</text>
<text x="20.8" y="121.8" font-size="14.2" fill="#fff" text-anchor="start" textLength="31.4" lengthAdjust="spacingAndGlyphs" >-70.0</text>
<line x1="66" y1="202.1" x2="152.4" y2="202.1" stroke="#fff" stroke-width="2.0"/>
<line x1="66" y1="202.1" x2="66" y2="204.29999999999998" stroke="#fff" stroke-width="1.2"/>
<line x1="152.4" y1="202.1" x2="152.4" y2="204.29999999999998" stroke="#fff" stroke-width="1.2"/>
<line x1="65.3" y1="206" x2="65.3" y2="231" stroke="#d8b6ac" stroke-width="1.9" stroke-dasharray="5.2 2.2"/>
<line x1="152.6" y1="206" x2="152.6" y2="231" stroke="#d8b6ac" stroke-width="1.9" stroke-dasharray="5.2 2.2"/>
<rect x="65.0" y="231.5" width="88.5" height="66.80000000000001" fill="none" stroke="#fff" stroke-opacity="0.8" stroke-width="0.85"/>
<path d="M65.4,241.4 L67.0,241.4 Q68.6,241.4 69.1,242.9 L71.1,248.3 Q71.6,249.8 73.2,249.8 L82.9,250.1 Q84.5,250.1 85.1,251.6 L88.2,259.2 Q88.8,260.7 90.4,260.7 L107.0,261.0 Q108.6,261.0 109.2,262.5 L112.1,269.7 Q112.7,271.2 114.3,271.2 L126.7,271.4 Q128.3,271.4 128.9,272.9 L131.8,280.0 Q132.4,281.5 134.0,281.6 L144.6,281.9 Q146.2,282.0 147.0,283.4 L152.1,292.8" fill="none" stroke="#fff" stroke-width="1.3" stroke-linejoin="round"/>
<text x="28.8" y="238.9" font-size="14.2" fill="#fff" text-anchor="start" textLength="26.4" lengthAdjust="spacingAndGlyphs" >30.0</text>
<text x="25.400000000000002" y="302.3" font-size="14.2" fill="#fff" text-anchor="start" textLength="31.0" lengthAdjust="spacingAndGlyphs" >-70.0</text>
<line x1="15.2" y1="393" x2="99.9" y2="393" stroke="#fff" stroke-width="2.0"/>
<line x1="15.2" y1="393" x2="15.2" y2="395.2" stroke="#fff" stroke-width="1.2"/>
<line x1="99.9" y1="393" x2="99.9" y2="395.2" stroke="#fff" stroke-width="1.2"/>
<line x1="15" y1="396.5" x2="14.5" y2="419.5" stroke="#d8b6ac" stroke-width="1.9" stroke-dasharray="5.2 2.2"/>
<line x1="99.6" y1="396.5" x2="98.2" y2="419.5" stroke="#d8b6ac" stroke-width="1.9" stroke-dasharray="5.2 2.2"/>
<rect x="14.4" y="420.6" width="85.3" height="60.5" fill="none" stroke="#fff" stroke-opacity="0.8" stroke-width="0.85"/>
<path d="M14.8,430.9 L23.0,431.1 Q25.2,431.2 26.1,433.2 L29.5,441.0 Q30.4,443.0 32.6,443.1 L42.3,443.5 Q44.5,443.6 45.5,445.6 L49.0,452.7 Q50.0,454.7 52.2,454.7 L69.2,455.1 Q71.4,455.1 72.4,457.0 L77.3,466.2 Q78.3,468.1 80.5,468.2 L99.4,468.8" fill="none" stroke="#fff" stroke-width="1.3" stroke-linejoin="round"/>
<text x="105.8" y="426.9" font-size="14.2" fill="#fff" text-anchor="start" textLength="26.7" lengthAdjust="spacingAndGlyphs" >30.0</text>
<text x="103.39999999999999" y="487.0" font-size="14.2" fill="#fff" text-anchor="start" textLength="31.599999999999998" lengthAdjust="spacingAndGlyphs" >-70.0</text>
<text x="118.4" y="148.4" font-size="12" fill="#fff" text-anchor="start" textLength="41" lengthAdjust="spacingAndGlyphs" >400 nm</text>
<rect x="123.2" y="152.6" width="32" height="5.8" fill="#fff"/>
<text x="118.4" y="326.9" font-size="12" fill="#fff" text-anchor="start" textLength="41" lengthAdjust="spacingAndGlyphs" >400 nm</text>
<rect x="123.2" y="331.1" width="32" height="5.8" fill="#fff"/>
<text x="118.4" y="504.9" font-size="12" fill="#fff" text-anchor="start" textLength="41" lengthAdjust="spacingAndGlyphs" >400 nm</text>
<rect x="123.2" y="509.8" width="32" height="5.8" fill="#fff"/>
<rect x="192.5" y="18.55" width="16.7" height="127.30" fill="url(#cb)" stroke="#000" stroke-width="1.1"/>
<text x="171.6" y="15.2" font-size="16.5" fill="#000" text-anchor="start" textLength="63.9" lengthAdjust="spacingAndGlyphs" stroke="#000" stroke-width="0.3">10.0 nm</text>
<text x="165.7" y="162.3" font-size="16.5" fill="#000" text-anchor="start" textLength="69.6" lengthAdjust="spacingAndGlyphs" stroke="#000" stroke-width="0.3">-10.0 nm</text>
<rect x="192.5" y="195.55" width="16.7" height="127.60" fill="url(#cb)" stroke="#000" stroke-width="1.1"/>
<text x="171.6" y="192.7" font-size="16.5" fill="#000" text-anchor="start" textLength="63.9" lengthAdjust="spacingAndGlyphs" stroke="#000" stroke-width="0.3">10.0 nm</text>
<text x="165.7" y="340.1" font-size="16.5" fill="#000" text-anchor="start" textLength="69.6" lengthAdjust="spacingAndGlyphs" stroke="#000" stroke-width="0.3">-10.0 nm</text>
<rect x="192.5" y="375.25" width="16.7" height="127.50" fill="url(#cb)" stroke="#000" stroke-width="1.1"/>
<text x="171.6" y="372.3" font-size="16.5" fill="#000" text-anchor="start" textLength="63.9" lengthAdjust="spacingAndGlyphs" stroke="#000" stroke-width="0.3">10.0 nm</text>
<text x="165.7" y="518.8" font-size="16.5" fill="#000" text-anchor="start" textLength="69.6" lengthAdjust="spacingAndGlyphs" stroke="#000" stroke-width="0.3">-10.0 nm</text>
<rect x="265.97" y="121.96" width="2.93" height="14.44" fill="#8e8e8e" stroke="#363636" stroke-width="0.78"/>
<rect x="274.76" y="121.96" width="2.93" height="14.44" fill="#8e8e8e" stroke="#363636" stroke-width="0.78"/>
<rect x="277.70" y="121.96" width="2.93" height="14.44" fill="#8e8e8e" stroke="#363636" stroke-width="0.78"/>
<rect x="280.63" y="121.96" width="2.93" height="14.44" fill="#8e8e8e" stroke="#363636" stroke-width="0.78"/>
<rect x="283.56" y="107.51" width="2.93" height="28.89" fill="#8e8e8e" stroke="#363636" stroke-width="0.78"/>
<rect x="292.36" y="93.07" width="2.93" height="43.33" fill="#8e8e8e" stroke="#363636" stroke-width="0.78"/>
<rect x="295.29" y="64.18" width="2.93" height="72.22" fill="#8e8e8e" stroke="#363636" stroke-width="0.78"/>
<rect x="298.23" y="20.84" width="2.93" height="115.56" fill="#8e8e8e" stroke="#363636" stroke-width="0.78"/>
<rect x="301.16" y="93.07" width="2.93" height="43.33" fill="#8e8e8e" stroke="#363636" stroke-width="0.78"/>
<rect x="304.09" y="35.29" width="2.93" height="101.11" fill="#8e8e8e" stroke="#363636" stroke-width="0.78"/>
<rect x="307.02" y="20.84" width="2.93" height="115.56" fill="#8e8e8e" stroke="#363636" stroke-width="0.78"/>
<rect x="309.96" y="78.62" width="2.93" height="57.78" fill="#8e8e8e" stroke="#363636" stroke-width="0.78"/>
<rect x="312.89" y="78.62" width="2.93" height="57.78" fill="#8e8e8e" stroke="#363636" stroke-width="0.78"/>
<rect x="315.82" y="64.18" width="2.93" height="72.22" fill="#8e8e8e" stroke="#363636" stroke-width="0.78"/>
<rect x="318.76" y="49.73" width="2.93" height="86.67" fill="#8e8e8e" stroke="#363636" stroke-width="0.78"/>
<rect x="321.69" y="93.07" width="2.93" height="43.33" fill="#8e8e8e" stroke="#363636" stroke-width="0.78"/>
<rect x="324.62" y="20.84" width="2.93" height="115.56" fill="#8e8e8e" stroke="#363636" stroke-width="0.78"/>
<rect x="327.55" y="78.62" width="2.93" height="57.78" fill="#8e8e8e" stroke="#363636" stroke-width="0.78"/>
<rect x="330.49" y="107.51" width="2.93" height="28.89" fill="#8e8e8e" stroke="#363636" stroke-width="0.78"/>
<rect x="333.42" y="35.29" width="2.93" height="101.11" fill="#8e8e8e" stroke="#363636" stroke-width="0.78"/>
<rect x="336.35" y="78.62" width="2.93" height="57.78" fill="#8e8e8e" stroke="#363636" stroke-width="0.78"/>
<rect x="339.28" y="121.96" width="2.93" height="14.44" fill="#8e8e8e" stroke="#363636" stroke-width="0.78"/>
<rect x="342.22" y="49.73" width="2.93" height="86.67" fill="#8e8e8e" stroke="#363636" stroke-width="0.78"/>
<rect x="345.15" y="107.51" width="2.93" height="28.89" fill="#8e8e8e" stroke="#363636" stroke-width="0.78"/>
<rect x="353.95" y="121.96" width="2.93" height="14.44" fill="#8e8e8e" stroke="#363636" stroke-width="0.78"/>
<rect x="356.88" y="107.51" width="2.93" height="28.89" fill="#8e8e8e" stroke="#363636" stroke-width="0.78"/>
<rect x="359.81" y="121.96" width="2.93" height="14.44" fill="#8e8e8e" stroke="#363636" stroke-width="0.78"/>
<rect x="264.5" y="6.4" width="161.3" height="130.0" fill="none" stroke="#000" stroke-width="1.05"/>
<line x1="261.3" y1="136.40" x2="264.5" y2="136.40" stroke="#000" stroke-width="1"/>
<text x="260.0" y="140.2" font-size="10.5" fill="#000" text-anchor="end" >0</text>
<line x1="262.8" y1="129.18" x2="264.5" y2="129.18" stroke="#000" stroke-width="0.9"/>
<line x1="261.3" y1="121.96" x2="264.5" y2="121.96" stroke="#000" stroke-width="1"/>
<text x="260.0" y="125.76" font-size="10.5" fill="#000" text-anchor="end" >1</text>
<line x1="262.8" y1="114.73" x2="264.5" y2="114.73" stroke="#000" stroke-width="0.9"/>
<line x1="261.3" y1="107.51" x2="264.5" y2="107.51" stroke="#000" stroke-width="1"/>
<text x="260.0" y="111.31" font-size="10.5" fill="#000" text-anchor="end" >2</text>
<line x1="262.8" y1="100.29" x2="264.5" y2="100.29" stroke="#000" stroke-width="0.9"/>
<line x1="261.3" y1="93.07" x2="264.5" y2="93.07" stroke="#000" stroke-width="1"/>
<text x="260.0" y="96.87" font-size="10.5" fill="#000" text-anchor="end" >3</text>
<line x1="262.8" y1="85.84" x2="264.5" y2="85.84" stroke="#000" stroke-width="0.9"/>
<line x1="261.3" y1="78.62" x2="264.5" y2="78.62" stroke="#000" stroke-width="1"/>
<text x="260.0" y="82.42" font-size="10.5" fill="#000" text-anchor="end" >4</text>
<line x1="262.8" y1="71.40" x2="264.5" y2="71.40" stroke="#000" stroke-width="0.9"/>
<line x1="261.3" y1="64.18" x2="264.5" y2="64.18" stroke="#000" stroke-width="1"/>
<text x="260.0" y="67.98" font-size="10.5" fill="#000" text-anchor="end" >5</text>
<line x1="262.8" y1="56.96" x2="264.5" y2="56.96" stroke="#000" stroke-width="0.9"/>
<line x1="261.3" y1="49.73" x2="264.5" y2="49.73" stroke="#000" stroke-width="1"/>
<text x="260.0" y="53.53" font-size="10.5" fill="#000" text-anchor="end" >6</text>
<line x1="262.8" y1="42.51" x2="264.5" y2="42.51" stroke="#000" stroke-width="0.9"/>
<line x1="261.3" y1="35.29" x2="264.5" y2="35.29" stroke="#000" stroke-width="1"/>
<text x="260.0" y="39.09" font-size="10.5" fill="#000" text-anchor="end" >7</text>
<line x1="262.8" y1="28.07" x2="264.5" y2="28.07" stroke="#000" stroke-width="0.9"/>
<line x1="261.3" y1="20.84" x2="264.5" y2="20.84" stroke="#000" stroke-width="1"/>
<text x="260.0" y="24.64" font-size="10.5" fill="#000" text-anchor="end" >8</text>
<line x1="262.8" y1="13.62" x2="264.5" y2="13.62" stroke="#000" stroke-width="0.9"/>
<line x1="261.3" y1="6.40" x2="264.5" y2="6.40" stroke="#000" stroke-width="1"/>
<text x="260.0" y="10.2" font-size="10.5" fill="#000" text-anchor="end" >9</text>
<line x1="264.50" y1="136.4" x2="264.50" y2="138.1" stroke="#000" stroke-width="0.9"/>
<line x1="279.16" y1="136.4" x2="279.16" y2="139.6" stroke="#000" stroke-width="1"/>
<text x="279.16" y="149.5" font-size="10.5" fill="#000" text-anchor="middle" >30</text>
<line x1="293.83" y1="136.4" x2="293.83" y2="138.1" stroke="#000" stroke-width="0.9"/>
<line x1="308.49" y1="136.4" x2="308.49" y2="139.6" stroke="#000" stroke-width="1"/>
<text x="308.49" y="149.5" font-size="10.5" fill="#000" text-anchor="middle" >40</text>
<line x1="323.15" y1="136.4" x2="323.15" y2="138.1" stroke="#000" stroke-width="0.9"/>
<line x1="337.82" y1="136.4" x2="337.82" y2="139.6" stroke="#000" stroke-width="1"/>
<text x="337.82" y="149.5" font-size="10.5" fill="#000" text-anchor="middle" >50</text>
<line x1="352.48" y1="136.4" x2="352.48" y2="138.1" stroke="#000" stroke-width="0.9"/>
<line x1="367.15" y1="136.4" x2="367.15" y2="139.6" stroke="#000" stroke-width="1"/>
<text x="367.15" y="149.5" font-size="10.5" fill="#000" text-anchor="middle" >60</text>
<line x1="381.81" y1="136.4" x2="381.81" y2="138.1" stroke="#000" stroke-width="0.9"/>
<line x1="396.47" y1="136.4" x2="396.47" y2="139.6" stroke="#000" stroke-width="1"/>
<text x="396.47" y="149.5" font-size="10.5" fill="#000" text-anchor="middle" >70</text>
<line x1="411.14" y1="136.4" x2="411.14" y2="138.1" stroke="#000" stroke-width="0.9"/>
<line x1="425.80" y1="136.4" x2="425.80" y2="139.6" stroke="#000" stroke-width="1"/>
<text x="425.8" y="149.5" font-size="10.5" fill="#000" text-anchor="middle" >80</text>
<text x="281.5" y="161.3" font-size="11" fill="#000" text-anchor="start" textLength="127" lengthAdjust="spacingAndGlyphs" >Step height (SiC bilayer)</text>
<text transform="translate(249.4,71.4) rotate(-90)" font-size="11" text-anchor="middle" textLength="79" lengthAdjust="spacingAndGlyphs">Percentage (%)</text>
<text x="271.9" y="25.6" font-size="21" fill="#000" text-anchor="start" textLength="26.0" lengthAdjust="spacingAndGlyphs" >(b)</text>
<rect x="268.44" y="303.33" width="2.69" height="10.87" fill="#8e8e8e" stroke="#363636" stroke-width="0.78"/>
<rect x="276.50" y="303.33" width="2.69" height="10.87" fill="#8e8e8e" stroke="#363636" stroke-width="0.78"/>
<rect x="279.19" y="281.60" width="2.69" height="32.60" fill="#8e8e8e" stroke="#363636" stroke-width="0.78"/>
<rect x="281.88" y="281.60" width="2.69" height="32.60" fill="#8e8e8e" stroke="#363636" stroke-width="0.78"/>
<rect x="284.57" y="270.73" width="2.69" height="43.47" fill="#8e8e8e" stroke="#363636" stroke-width="0.78"/>
<rect x="287.26" y="249.00" width="2.69" height="65.20" fill="#8e8e8e" stroke="#363636" stroke-width="0.78"/>
<rect x="289.95" y="227.27" width="2.69" height="86.93" fill="#8e8e8e" stroke="#363636" stroke-width="0.78"/>
<rect x="292.64" y="238.13" width="2.69" height="76.07" fill="#8e8e8e" stroke="#363636" stroke-width="0.78"/>
<rect x="295.33" y="238.13" width="2.69" height="76.07" fill="#8e8e8e" stroke="#363636" stroke-width="0.78"/>
<rect x="298.02" y="270.73" width="2.69" height="43.47" fill="#8e8e8e" stroke="#363636" stroke-width="0.78"/>
<rect x="300.71" y="292.47" width="2.69" height="21.73" fill="#8e8e8e" stroke="#363636" stroke-width="0.78"/>
<rect x="303.40" y="259.87" width="2.69" height="54.33" fill="#8e8e8e" stroke="#363636" stroke-width="0.78"/>
<rect x="306.09" y="194.67" width="2.69" height="119.53" fill="#8e8e8e" stroke="#363636" stroke-width="0.78"/>
<rect x="308.78" y="205.53" width="2.69" height="108.67" fill="#8e8e8e" stroke="#363636" stroke-width="0.78"/>
<rect x="311.47" y="281.60" width="2.69" height="32.60" fill="#8e8e8e" stroke="#363636" stroke-width="0.78"/>
<rect x="314.16" y="227.27" width="2.69" height="86.93" fill="#8e8e8e" stroke="#363636" stroke-width="0.78"/>
<rect x="316.85" y="238.13" width="2.69" height="76.07" fill="#8e8e8e" stroke="#363636" stroke-width="0.78"/>
<rect x="319.54" y="292.47" width="2.69" height="21.73" fill="#8e8e8e" stroke="#363636" stroke-width="0.78"/>
<rect x="322.24" y="270.73" width="2.69" height="43.47" fill="#8e8e8e" stroke="#363636" stroke-width="0.78"/>
<rect x="324.92" y="227.27" width="2.69" height="86.93" fill="#8e8e8e" stroke="#363636" stroke-width="0.78"/>
<rect x="327.62" y="270.73" width="2.69" height="43.47" fill="#8e8e8e" stroke="#363636" stroke-width="0.78"/>
<rect x="330.31" y="249.00" width="2.69" height="65.20" fill="#8e8e8e" stroke="#363636" stroke-width="0.78"/>
<rect x="333.00" y="281.60" width="2.69" height="32.60" fill="#8e8e8e" stroke="#363636" stroke-width="0.78"/>
<rect x="335.69" y="205.53" width="2.69" height="108.67" fill="#8e8e8e" stroke="#363636" stroke-width="0.78"/>
<rect x="338.38" y="249.00" width="2.69" height="65.20" fill="#8e8e8e" stroke="#363636" stroke-width="0.78"/>
<rect x="341.06" y="238.13" width="2.69" height="76.07" fill="#8e8e8e" stroke="#363636" stroke-width="0.78"/>
<rect x="343.75" y="259.87" width="2.69" height="54.33" fill="#8e8e8e" stroke="#363636" stroke-width="0.78"/>
<rect x="346.44" y="292.47" width="2.69" height="21.73" fill="#8e8e8e" stroke="#363636" stroke-width="0.78"/>
<rect x="349.13" y="303.33" width="2.69" height="10.87" fill="#8e8e8e" stroke="#363636" stroke-width="0.78"/>
<rect x="351.82" y="303.33" width="2.69" height="10.87" fill="#8e8e8e" stroke="#363636" stroke-width="0.78"/>
<rect x="264.4" y="183.8" width="161.40000000000003" height="130.39999999999998" fill="none" stroke="#000" stroke-width="1.05"/>
<line x1="261.2" y1="314.20" x2="264.4" y2="314.20" stroke="#000" stroke-width="1"/>
<text x="260.0" y="318.0" font-size="10.5" fill="#000" text-anchor="end" >0</text>
<line x1="262.7" y1="306.05" x2="264.4" y2="306.05" stroke="#000" stroke-width="0.9"/>
<line x1="261.2" y1="297.90" x2="264.4" y2="297.90" stroke="#000" stroke-width="1"/>
<text x="260.0" y="301.7" font-size="10.5" fill="#000" text-anchor="end" >1</text>
<line x1="262.7" y1="289.75" x2="264.4" y2="289.75" stroke="#000" stroke-width="0.9"/>
<line x1="261.2" y1="281.60" x2="264.4" y2="281.60" stroke="#000" stroke-width="1"/>
<text x="260.0" y="285.4" font-size="10.5" fill="#000" text-anchor="end" >2</text>
<line x1="262.7" y1="273.45" x2="264.4" y2="273.45" stroke="#000" stroke-width="0.9"/>
<line x1="261.2" y1="265.30" x2="264.4" y2="265.30" stroke="#000" stroke-width="1"/>
<text x="260.0" y="269.1" font-size="10.5" fill="#000" text-anchor="end" >3</text>
<line x1="262.7" y1="257.15" x2="264.4" y2="257.15" stroke="#000" stroke-width="0.9"/>
<line x1="261.2" y1="249.00" x2="264.4" y2="249.00" stroke="#000" stroke-width="1"/>
<text x="260.0" y="252.8" font-size="10.5" fill="#000" text-anchor="end" >4</text>
<line x1="262.7" y1="240.85" x2="264.4" y2="240.85" stroke="#000" stroke-width="0.9"/>
<line x1="261.2" y1="232.70" x2="264.4" y2="232.70" stroke="#000" stroke-width="1"/>
<text x="260.0" y="236.5" font-size="10.5" fill="#000" text-anchor="end" >5</text>
<line x1="262.7" y1="224.55" x2="264.4" y2="224.55" stroke="#000" stroke-width="0.9"/>
<line x1="261.2" y1="216.40" x2="264.4" y2="216.40" stroke="#000" stroke-width="1"/>
<text x="260.0" y="220.2" font-size="10.5" fill="#000" text-anchor="end" >6</text>
<line x1="262.7" y1="208.25" x2="264.4" y2="208.25" stroke="#000" stroke-width="0.9"/>
<line x1="261.2" y1="200.10" x2="264.4" y2="200.10" stroke="#000" stroke-width="1"/>
<text x="260.0" y="203.9" font-size="10.5" fill="#000" text-anchor="end" >7</text>
<line x1="262.7" y1="191.95" x2="264.4" y2="191.95" stroke="#000" stroke-width="0.9"/>
<line x1="261.2" y1="183.80" x2="264.4" y2="183.80" stroke="#000" stroke-width="1"/>
<text x="260.0" y="187.6" font-size="10.5" fill="#000" text-anchor="end" >8</text>
<line x1="264.40" y1="314.2" x2="264.40" y2="317.4" stroke="#000" stroke-width="1"/>
<text x="264.4" y="327.3" font-size="10.5" fill="#000" text-anchor="middle" >20</text>
<line x1="277.85" y1="314.2" x2="277.85" y2="315.9" stroke="#000" stroke-width="0.9"/>
<line x1="291.30" y1="314.2" x2="291.30" y2="317.4" stroke="#000" stroke-width="1"/>
<text x="291.3" y="327.3" font-size="10.5" fill="#000" text-anchor="middle" >30</text>
<line x1="304.75" y1="314.2" x2="304.75" y2="315.9" stroke="#000" stroke-width="0.9"/>
<line x1="318.20" y1="314.2" x2="318.20" y2="317.4" stroke="#000" stroke-width="1"/>
<text x="318.2" y="327.3" font-size="10.5" fill="#000" text-anchor="middle" >40</text>
<line x1="331.65" y1="314.2" x2="331.65" y2="315.9" stroke="#000" stroke-width="0.9"/>
<line x1="345.10" y1="314.2" x2="345.10" y2="317.4" stroke="#000" stroke-width="1"/>
<text x="345.1" y="327.3" font-size="10.5" fill="#000" text-anchor="middle" >50</text>
<line x1="358.55" y1="314.2" x2="358.55" y2="315.9" stroke="#000" stroke-width="0.9"/>
<line x1="372.00" y1="314.2" x2="372.00" y2="317.4" stroke="#000" stroke-width="1"/>
<text x="372.0" y="327.3" font-size="10.5" fill="#000" text-anchor="middle" >60</text>
<line x1="385.45" y1="314.2" x2="385.45" y2="315.9" stroke="#000" stroke-width="0.9"/>
<line x1="398.90" y1="314.2" x2="398.90" y2="317.4" stroke="#000" stroke-width="1"/>
<text x="398.9" y="327.3" font-size="10.5" fill="#000" text-anchor="middle" >70</text>
<line x1="412.35" y1="314.2" x2="412.35" y2="315.9" stroke="#000" stroke-width="0.9"/>
<line x1="425.80" y1="314.2" x2="425.80" y2="317.4" stroke="#000" stroke-width="1"/>
<text x="425.8" y="327.3" font-size="10.5" fill="#000" text-anchor="middle" >80</text>
<text x="281.5" y="339.1" font-size="11" fill="#000" text-anchor="start" textLength="127" lengthAdjust="spacingAndGlyphs" >Step height (SiC bilayer)</text>
<text transform="translate(249.4,249.0) rotate(-90)" font-size="11" text-anchor="middle" textLength="79" lengthAdjust="spacingAndGlyphs">Percentage (%)</text>
<text x="271.6" y="203.7" font-size="21" fill="#000" text-anchor="start" textLength="26.0" lengthAdjust="spacingAndGlyphs" >(d)</text>
<rect x="298.15" y="474.47" width="2.93" height="18.53" fill="#8e8e8e" stroke="#363636" stroke-width="0.78"/>
<rect x="304.02" y="455.94" width="2.93" height="37.06" fill="#8e8e8e" stroke="#363636" stroke-width="0.78"/>
<rect x="306.95" y="418.89" width="2.93" height="74.11" fill="#8e8e8e" stroke="#363636" stroke-width="0.78"/>
<rect x="309.89" y="474.47" width="2.93" height="18.53" fill="#8e8e8e" stroke="#363636" stroke-width="0.78"/>
<rect x="312.82" y="418.89" width="2.93" height="74.11" fill="#8e8e8e" stroke="#363636" stroke-width="0.78"/>
<rect x="318.69" y="455.94" width="2.93" height="37.06" fill="#8e8e8e" stroke="#363636" stroke-width="0.78"/>
<rect x="321.62" y="437.41" width="2.93" height="55.59" fill="#8e8e8e" stroke="#363636" stroke-width="0.78"/>
<rect x="324.56" y="474.47" width="2.93" height="18.53" fill="#8e8e8e" stroke="#363636" stroke-width="0.78"/>
<rect x="327.49" y="437.41" width="2.93" height="55.59" fill="#8e8e8e" stroke="#363636" stroke-width="0.78"/>
<rect x="330.43" y="400.36" width="2.93" height="92.64" fill="#8e8e8e" stroke="#363636" stroke-width="0.78"/>
<rect x="333.36" y="455.94" width="2.93" height="37.06" fill="#8e8e8e" stroke="#363636" stroke-width="0.78"/>
<rect x="336.30" y="455.94" width="2.93" height="37.06" fill="#8e8e8e" stroke="#363636" stroke-width="0.78"/>
<rect x="339.23" y="437.41" width="2.93" height="55.59" fill="#8e8e8e" stroke="#363636" stroke-width="0.78"/>
<rect x="342.17" y="474.47" width="2.93" height="18.53" fill="#8e8e8e" stroke="#363636" stroke-width="0.78"/>
<rect x="345.10" y="474.47" width="2.93" height="18.53" fill="#8e8e8e" stroke="#363636" stroke-width="0.78"/>
<rect x="348.03" y="418.89" width="2.93" height="74.11" fill="#8e8e8e" stroke="#363636" stroke-width="0.78"/>
<rect x="350.97" y="437.41" width="2.93" height="55.59" fill="#8e8e8e" stroke="#363636" stroke-width="0.78"/>
<rect x="353.90" y="418.89" width="2.93" height="74.11" fill="#8e8e8e" stroke="#363636" stroke-width="0.78"/>
<rect x="356.84" y="418.89" width="2.93" height="74.11" fill="#8e8e8e" stroke="#363636" stroke-width="0.78"/>
<rect x="359.77" y="474.47" width="2.93" height="18.53" fill="#8e8e8e" stroke="#363636" stroke-width="0.78"/>
<rect x="362.71" y="437.41" width="2.93" height="55.59" fill="#8e8e8e" stroke="#363636" stroke-width="0.78"/>
<rect x="365.64" y="437.41" width="2.93" height="55.59" fill="#8e8e8e" stroke="#363636" stroke-width="0.78"/>
<rect x="368.58" y="455.94" width="2.93" height="37.06" fill="#8e8e8e" stroke="#363636" stroke-width="0.78"/>
<rect x="371.51" y="381.83" width="2.93" height="111.17" fill="#8e8e8e" stroke="#363636" stroke-width="0.78"/>
<rect x="374.45" y="455.94" width="2.93" height="37.06" fill="#8e8e8e" stroke="#363636" stroke-width="0.78"/>
<rect x="377.38" y="400.36" width="2.93" height="92.64" fill="#8e8e8e" stroke="#363636" stroke-width="0.78"/>
<rect x="380.31" y="474.47" width="2.93" height="18.53" fill="#8e8e8e" stroke="#363636" stroke-width="0.78"/>
<rect x="383.25" y="474.47" width="2.93" height="18.53" fill="#8e8e8e" stroke="#363636" stroke-width="0.78"/>
<rect x="386.18" y="418.89" width="2.93" height="74.11" fill="#8e8e8e" stroke="#363636" stroke-width="0.78"/>
<rect x="389.12" y="437.41" width="2.93" height="55.59" fill="#8e8e8e" stroke="#363636" stroke-width="0.78"/>
<rect x="392.05" y="474.47" width="2.93" height="18.53" fill="#8e8e8e" stroke="#363636" stroke-width="0.78"/>
<rect x="394.99" y="474.47" width="2.93" height="18.53" fill="#8e8e8e" stroke="#363636" stroke-width="0.78"/>
<rect x="397.92" y="400.36" width="2.93" height="92.64" fill="#8e8e8e" stroke="#363636" stroke-width="0.78"/>
<rect x="400.86" y="437.41" width="2.93" height="55.59" fill="#8e8e8e" stroke="#363636" stroke-width="0.78"/>
<rect x="403.79" y="474.47" width="2.93" height="18.53" fill="#8e8e8e" stroke="#363636" stroke-width="0.78"/>
<rect x="406.73" y="474.47" width="2.93" height="18.53" fill="#8e8e8e" stroke="#363636" stroke-width="0.78"/>
<rect x="409.66" y="474.47" width="2.93" height="18.53" fill="#8e8e8e" stroke="#363636" stroke-width="0.78"/>
<rect x="412.59" y="455.94" width="2.93" height="37.06" fill="#8e8e8e" stroke="#363636" stroke-width="0.78"/>
<rect x="415.53" y="474.47" width="2.93" height="18.53" fill="#8e8e8e" stroke="#363636" stroke-width="0.78"/>
<rect x="264.4" y="363.3" width="161.40000000000003" height="129.7" fill="none" stroke="#000" stroke-width="1.05"/>
<line x1="261.2" y1="493.00" x2="264.4" y2="493.00" stroke="#000" stroke-width="1"/>
<text x="260.0" y="496.8" font-size="10.5" fill="#000" text-anchor="end" >0</text>
<line x1="262.7" y1="483.74" x2="264.4" y2="483.74" stroke="#000" stroke-width="0.9"/>
<line x1="261.2" y1="474.47" x2="264.4" y2="474.47" stroke="#000" stroke-width="1"/>
<text x="260.0" y="478.27" font-size="10.5" fill="#000" text-anchor="end" >1</text>
<line x1="262.7" y1="465.21" x2="264.4" y2="465.21" stroke="#000" stroke-width="0.9"/>
<line x1="261.2" y1="455.94" x2="264.4" y2="455.94" stroke="#000" stroke-width="1"/>
<text x="260.0" y="459.74" font-size="10.5" fill="#000" text-anchor="end" >2</text>
<line x1="262.7" y1="446.68" x2="264.4" y2="446.68" stroke="#000" stroke-width="0.9"/>
<line x1="261.2" y1="437.41" x2="264.4" y2="437.41" stroke="#000" stroke-width="1"/>
<text x="260.0" y="441.21" font-size="10.5" fill="#000" text-anchor="end" >3</text>
<line x1="262.7" y1="428.15" x2="264.4" y2="428.15" stroke="#000" stroke-width="0.9"/>
<line x1="261.2" y1="418.89" x2="264.4" y2="418.89" stroke="#000" stroke-width="1"/>
<text x="260.0" y="422.69" font-size="10.5" fill="#000" text-anchor="end" >4</text>
<line x1="262.7" y1="409.62" x2="264.4" y2="409.62" stroke="#000" stroke-width="0.9"/>
<line x1="261.2" y1="400.36" x2="264.4" y2="400.36" stroke="#000" stroke-width="1"/>
<text x="260.0" y="404.16" font-size="10.5" fill="#000" text-anchor="end" >5</text>
<line x1="262.7" y1="391.09" x2="264.4" y2="391.09" stroke="#000" stroke-width="0.9"/>
<line x1="261.2" y1="381.83" x2="264.4" y2="381.83" stroke="#000" stroke-width="1"/>
<text x="260.0" y="385.63" font-size="10.5" fill="#000" text-anchor="end" >6</text>
<line x1="262.7" y1="372.56" x2="264.4" y2="372.56" stroke="#000" stroke-width="0.9"/>
<line x1="261.2" y1="363.30" x2="264.4" y2="363.30" stroke="#000" stroke-width="1"/>
<text x="260.0" y="367.1" font-size="10.5" fill="#000" text-anchor="end" >7</text>
<line x1="264.40" y1="493.0" x2="264.40" y2="494.7" stroke="#000" stroke-width="0.9"/>
<line x1="279.07" y1="493.0" x2="279.07" y2="496.2" stroke="#000" stroke-width="1"/>
<text x="279.07" y="506.1" font-size="10.5" fill="#000" text-anchor="middle" >30</text>
<line x1="293.75" y1="493.0" x2="293.75" y2="494.7" stroke="#000" stroke-width="0.9"/>
<line x1="308.42" y1="493.0" x2="308.42" y2="496.2" stroke="#000" stroke-width="1"/>
<text x="308.42" y="506.1" font-size="10.5" fill="#000" text-anchor="middle" >40</text>
<line x1="323.09" y1="493.0" x2="323.09" y2="494.7" stroke="#000" stroke-width="0.9"/>
<line x1="337.76" y1="493.0" x2="337.76" y2="496.2" stroke="#000" stroke-width="1"/>
<text x="337.76" y="506.1" font-size="10.5" fill="#000" text-anchor="middle" >50</text>
<line x1="352.44" y1="493.0" x2="352.44" y2="494.7" stroke="#000" stroke-width="0.9"/>
<line x1="367.11" y1="493.0" x2="367.11" y2="496.2" stroke="#000" stroke-width="1"/>
<text x="367.11" y="506.1" font-size="10.5" fill="#000" text-anchor="middle" >60</text>
<line x1="381.78" y1="493.0" x2="381.78" y2="494.7" stroke="#000" stroke-width="0.9"/>
<line x1="396.45" y1="493.0" x2="396.45" y2="496.2" stroke="#000" stroke-width="1"/>
<text x="396.45" y="506.1" font-size="10.5" fill="#000" text-anchor="middle" >70</text>
<line x1="411.13" y1="493.0" x2="411.13" y2="494.7" stroke="#000" stroke-width="0.9"/>
<line x1="425.80" y1="493.0" x2="425.80" y2="496.2" stroke="#000" stroke-width="1"/>
<text x="425.8" y="506.1" font-size="10.5" fill="#000" text-anchor="middle" >80</text>
<text x="281.5" y="517.9" font-size="11" fill="#000" text-anchor="start" textLength="127" lengthAdjust="spacingAndGlyphs" >Step height (SiC bilayer)</text>
<text transform="translate(249.4,428.1) rotate(-90)" font-size="11" text-anchor="middle" textLength="79" lengthAdjust="spacingAndGlyphs">Percentage (%)</text>
<text x="271.7" y="382.7" font-size="21" fill="#000" text-anchor="start" textLength="20.4" lengthAdjust="spacingAndGlyphs" >(f)</text>
<rect x="0" y="0" width="435" height="0.8" fill="#e6e6e6"/><rect x="0" y="0" width="0.7" height="524" fill="#e6e6e6"/><rect x="432.6" y="0" width="2.4" height="524" fill="#e6e6e6"/><rect x="0" y="522.2" width="435" height="1.8" fill="#e6e6e6"/>
</svg>
</body></html>
